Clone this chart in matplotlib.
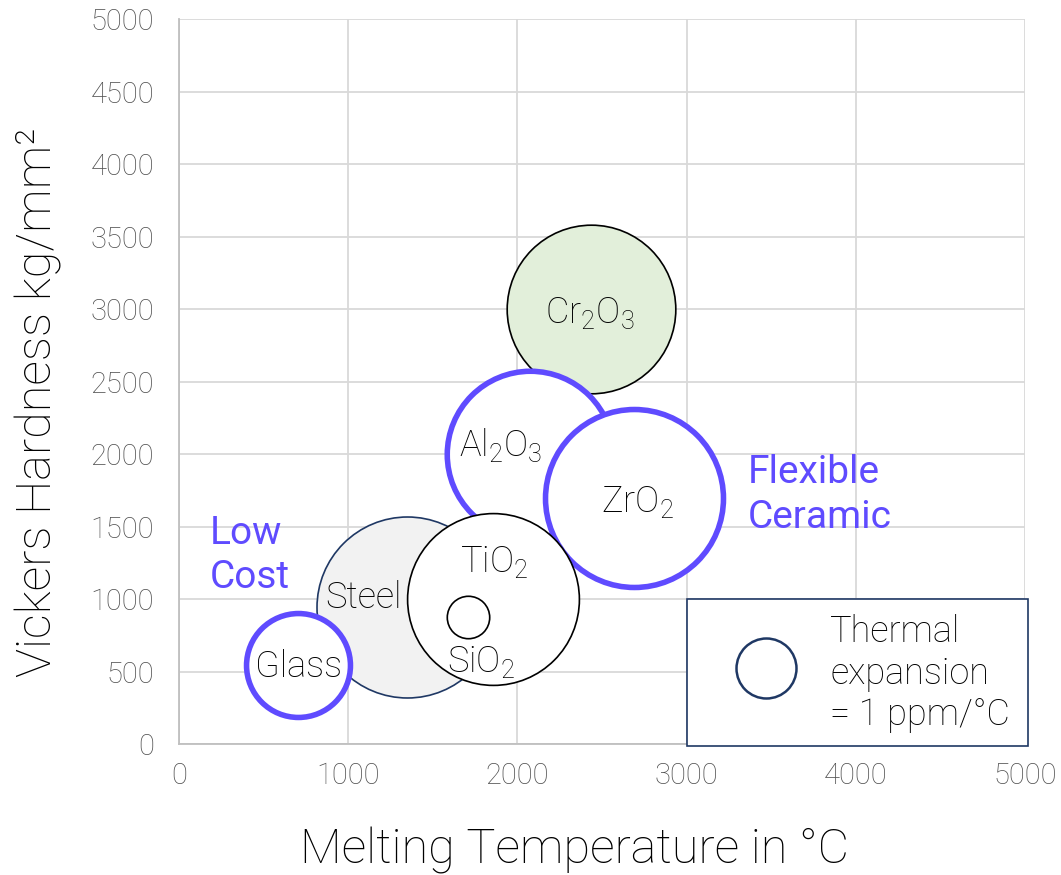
import matplotlib
matplotlib.use('Agg')
import matplotlib.pyplot as plt
from matplotlib.patches import Rectangle

plt.rcParams['font.family'] = ['Roboto', 'DejaVu Sans']
plt.rcParams['mathtext.default'] = 'regular'

# bubble data: melting point (°C), Vickers hardness (kg/mm2), thermal expansion (ppm/°C)
materials = ['Cr$_2$O$_3$', 'Al$_2$O$_3$', 'ZrO$_2$', 'Steel', 'TiO$_2$', 'SiO$_2$', 'Glass']
melting = [2435, 2072, 2690, 1350, 1855, 1710, 700]
hardness = [3000, 2000, 1700, 950, 1000, 880, 550]
expansion = [7.9, 7.7, 8.8, 9.1, 8.2, 0.5, 3.0]

x_ticks = [0, 1000, 2000, 3000, 4000, 5000]
y_ticks = list(range(0, 5001, 500))

purple = '#5F4BFF'
navy = '#1F3864'
face = {'Cr$_2$O$_3$': '#E2EFDA', 'Steel': '#F2F2F2'}
edge = {'Al$_2$O$_3$': purple, 'ZrO$_2$': purple, 'Glass': purple, 'Steel': navy}
width = {'Al$_2$O$_3$': 4.0, 'ZrO$_2$': 4.0, 'Glass': 4.0}
# label offsets from bubble centre, points
label_offset = {'Cr$_2$O$_3$': (-1, -10), 'Al$_2$O$_3$': (-21, -1), 'ZrO$_2$': (2, -10),
                'Steel': (-32, -1), 'TiO$_2$': (1, 20), 'SiO$_2$': (9, -40), 'Glass': (1, -9)}

unit_s = 1866.0  # marker area (pt^2) for 1 ppm/°C

fig = plt.figure(figsize=(10.61, 8.75), dpi=100)
ax = fig.add_axes([0.1688, 0.1493, 0.7973, 0.8288])

for i, name in enumerate(materials):
    ax.scatter(melting[i], hardness[i], s=expansion[i] * unit_s,
               facecolor=face.get(name, 'white'), edgecolor=edge.get(name, 'black'),
               linewidth=width.get(name, 1.2), zorder=3 + i)
    ax.annotate(name, (melting[i], hardness[i]), xytext=label_offset[name],
                textcoords='offset points', ha='center', va='baseline',
                fontsize=26, fontweight='light', color='black', zorder=20)

ax.text(183, 1300, 'Low\nCost', color=purple, fontsize=28, ha='left', va='center',
        linespacing=1.25, zorder=20)
ax.text(3362, 1720, 'Flexible\nCeramic', color=purple, fontsize=28, ha='left', va='center',
        linespacing=1.25, zorder=20)

# size key
ax.add_patch(Rectangle((0.6008, -0.0022), 0.4031, 0.2023, transform=ax.transAxes,
                       facecolor='white', edgecolor=navy, linewidth=1.2,
                       clip_on=False, zorder=30))
ax.scatter([0.6936], [0.1053], s=unit_s, transform=ax.transAxes, facecolor='white',
           edgecolor=navy, linewidth=1.8, clip_on=False, zorder=31)
ax.text(0.7695, 0.0975, 'Thermal\nexpansion\n= 1 ppm/°C', transform=ax.transAxes,
        ha='left', va='center', fontsize=26, fontweight='light', linespacing=1.2, zorder=32)

ax.set_xlim(0, 5000)
ax.set_ylim(0, 5000)
ax.set_xticks(x_ticks)
ax.set_yticks(y_ticks)
ax.grid(True, color='#D9D9D9', linewidth=1.3, zorder=0)
ax.set_axisbelow(True)
for s in ['top', 'right']:
    ax.spines[s].set_visible(False)
for s in ['left', 'bottom']:
    ax.spines[s].set_color('#BFBFBF')
    ax.spines[s].set_linewidth(1.3)
ax.tick_params(length=0, labelsize=21, labelcolor='#505050')
ax.tick_params(axis='y', pad=18)
ax.tick_params(axis='x', pad=13)
for lbl in ax.get_xticklabels() + ax.get_yticklabels():
    lbl.set_fontweight('light')

fig.text(0.542, 0.028, 'Melting Temperature in °C', ha='center', va='center',
         fontsize=35, fontweight='light')
fig.text(0.036, 0.54, 'Vickers Hardness kg/mm²', ha='center', va='center',
         rotation=90, fontsize=35, fontweight='light')

fig.savefig('out.png', dpi=100)
